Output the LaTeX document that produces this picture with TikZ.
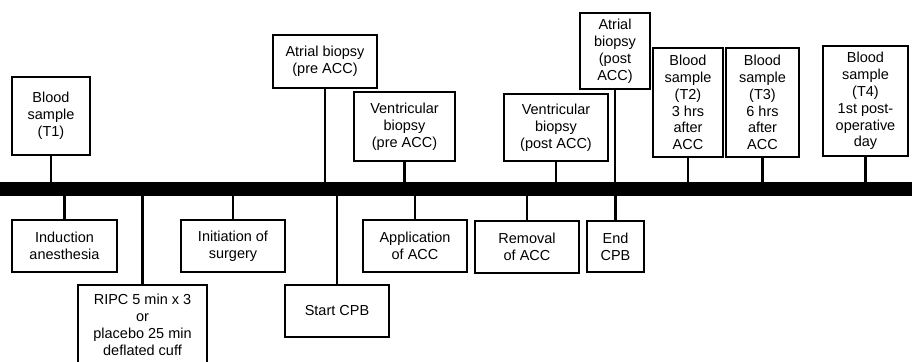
\documentclass[tikz,border=0pt]{standalone}
\usepackage{fontspec}
\setmainfont{Liberation Sans}
\usepackage{tikz}
\usetikzlibrary{positioning, calc}

\tikzset{
  event/.style={draw, line width=1pt, align=center, inner sep=1pt,
    font=\fontsize{10.3}{12}\selectfont},
  stem/.style={line width=2pt}
}

\begin{document}
\begin{tikzpicture}[x=0.025cm, y=-0.025cm]
\useasboundingbox (0,0) rectangle (912,361);
\clip (0,0) rectangle (912,361);

% time line
\node[fill=black, minimum width=22.8cm, minimum height=0.35cm, inner sep=0pt, anchor=west] (bar) at (0,189) {};

% events above the line
\node[event, minimum width=1.95cm, minimum height=1.95cm] (bsa) at (51,116) {Blood\\sample\\(T1)};
\node[event, minimum width=2.6cm, minimum height=1.325cm] (abpre) at (325,61.5) {Atrial biopsy\\(pre ACC)};
\node[event, minimum width=2.525cm, minimum height=1.725cm] (vbpre) at (404.5,126.5) {Ventricular\\biopsy\\(pre ACC)};
\node[event, minimum width=2.6cm, minimum height=1.675cm] (vbpost) at (556,127.5) {Ventricular\\biopsy\\(post ACC)};
\node[event, minimum width=1.75cm, minimum height=1.9cm] (abpost) at (615,51) {Atrial\\biopsy\\(post\\ACC)};
\node[event, minimum width=1.75cm, minimum height=2.725cm] (bsb) at (688,102.5) {Blood\\sample\\(T2)\\3 hrs\\after\\ACC};
\node[event, minimum width=1.825cm, minimum height=2.725cm] (bsc) at (762.5,102.5) {Blood\\sample\\(T3)\\6 hrs\\after\\ACC};
\node[event, minimum width=2.125cm, minimum height=2.75cm] (bsd) at (865.5,101) {Blood\\sample\\(T4)\\1st post-\\operative\\day};

% events below the line
\node[event, minimum width=2.625cm, minimum height=1.3cm] (induct) at (64.5,246) {Induction\\anesthesia};
\node[event, minimum width=3.225cm, minimum height=2cm] (ripc) at (142.5,325) {RIPC 5 min x 3\\or\\placebo 25 min\\deflated cuff};
\node[event, minimum width=2.6cm, minimum height=1.3cm] (initsurg) at (233,246) {Initiation of\\surgery};
\node[event, minimum width=2.6cm, minimum height=1.3cm] (startcpb) at (337,311) {Start CPB};
\node[event, minimum width=2.6cm, minimum height=1.3cm] (applacc) at (415,246) {Application\\of ACC};
\node[event, minimum width=2.6cm, minimum height=1.3cm] (remacc) at (527,247) {Removal\\of ACC};
\node[event, minimum width=1.425cm, minimum height=1.275cm] (endcpb) at (615.5,246.5) {End\\CPB};

% stems
\foreach \n in {bsa, abpre, vbpre, vbpost, abpost, bsb, bsc, bsd}
  \draw[stem] (\n.south) -- (\n.south |- bar.north);
\foreach \n in {induct, ripc, initsurg, startcpb, applacc, remacc, endcpb}
  \draw[stem] (\n.north) -- (\n.north |- bar.south);
\end{tikzpicture}
\end{document}
